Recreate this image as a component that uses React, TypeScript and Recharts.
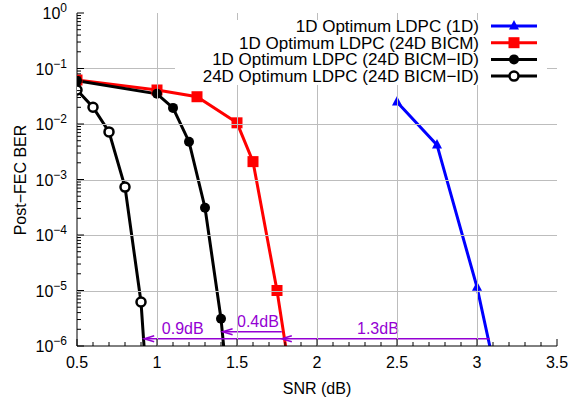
import React from "react";
import { LineChart, Line, XAxis, YAxis, ReferenceLine } from "recharts";

const FONT = '"Liberation Sans", Arial, Helvetica, sans-serif';
const PURPLE = "#9400d3";

// legend names, in plot order
const seriesNames = [
  "1D Optimum LDPC (1D)",
  "1D Optimum LDPC (24D BICM)",
  "1D Optimum LDPC (24D BICM\u2212ID)",
  "24D Optimum LDPC (24D BICM\u2212ID)",
];
const seriesColors = ["#0000ff", "#ff0000", "#000000", "#000000"];

// SNR (dB) / post-FEC BER
const snr1D = [2.5, 2.75, 3.0, 3.1];
const ber1D = [0.025, 0.0042, 1.15e-5, 5.4e-7];

const snrBicm = [0.5, 1.0, 1.25, 1.5, 1.6, 1.75, 1.82];
const berBicm = [0.062, 0.041, 0.031, 0.0105, 0.0021, 1.0e-5, 5e-7];

const snrBicmId1D = [0.5, 1.0, 1.1, 1.2, 1.3, 1.4, 1.45];
const berBicmId1D = [0.06, 0.035, 0.0195, 0.0048, 3.1e-4, 3.1e-6, 1e-7];

const snrBicmId24D = [0.5, 0.6, 0.7, 0.8, 0.9, 0.95];
const berBicmId24D = [0.041, 0.02, 0.0072, 7.3e-4, 6.2e-6, 5e-8];

// gap arrows along the bottom
const arrowFrom = [1.78, 3.08, 1.78];
const arrowTo = [0.92, 1.78, 1.41];
const arrowBer = [1.35e-6, 1.35e-6, 1.8e-6];
const arrowLabels = ["0.9dB", "1.3dB", "0.4dB"];
const arrowLabelSnr = [1.03, 2.25, 1.5];

// axes
const xMajorTicks = [0.5, 1, 1.5, 2, 2.5, 3, 3.5];
const yMajorTicks = [1e-6, 1e-5, 1e-4, 1e-3, 1e-2, 1e-1, 1];
const xDomain = [0.5, 3.5];
const yDomain = [1e-6, 1];

const xAllTicks: number[] = [];
for (let i = 5; i <= 35; i++) xAllTicks.push(i / 10);
const yAllTicks: number[] = [];
yMajorTicks.forEach((d, i) => {
  yAllTicks.push(d);
  if (i < yMajorTicks.length - 1) for (let m = 2; m <= 9; m++) yAllTicks.push(d * m);
});

const isMajorX = (v: number) => xMajorTicks.some((t) => Math.abs(t - v) < 1e-6);
const isMajorY = (v: number) => yMajorTicks.some((t) => Math.abs(t / v - 1) < 1e-6);

const zip = (xs: number[], ys: number[]) => xs.map((snr, i) => ({ snr, ber: ys[i] }));
const series = [
  zip(snr1D, ber1D),
  zip(snrBicm, berBicm),
  zip(snrBicmId1D, berBicmId1D),
  zip(snrBicmId24D, berBicmId24D),
];

function Marker({ kind, cx, cy, color }: { kind: number; cx: number; cy: number; color: string }) {
  if (kind === 0)
    return <polygon points={`${cx},${cy - 6} ${cx - 5},${cy + 3.5} ${cx + 5},${cy + 3.5}`} fill={color} />;
  if (kind === 1) return <rect x={cx - 5.5} y={cy - 5.5} width={11} height={11} fill={color} />;
  if (kind === 2) return <circle cx={cx} cy={cy} r={5} fill={color} />;
  return <circle cx={cx} cy={cy} r={4.5} fill="#fff" stroke={color} strokeWidth={2.5} />;
}

const dotFor = (kind: number) => (p: any) =>
  p.cx == null || p.cy == null ? (
    <g key={p.index} />
  ) : (
    <Marker key={p.index} kind={kind} cx={p.cx} cy={p.cy} color={seriesColors[kind]} />
  );

// light grid: the dotted version vanishes in the screenshot, so a pale solid line stands in for it
const GRID = "#bdbdbd";

const BottomTick = ({ x, y, payload }: any) => {
  const v = payload.value;
  const major = isMajorX(v);
  const inner = major && v > xDomain[0] && v < xDomain[1];
  return (
    <g>
      {inner && <rect x={Math.round(x)} y={y - 333} width={1} height={333} fill={GRID} />}
      <line x1={x} x2={x} y1={y} y2={y - (major ? 7 : 4)} stroke="#000" />
      {major && (
        <text x={x} y={y + 22} textAnchor="middle" fontSize={16} fontFamily={FONT} fill="#000">
          {String(v)}
        </text>
      )}
    </g>
  );
};

const TopTick = ({ x, y, payload }: any) => {
  const major = isMajorX(payload.value);
  return <line x1={x} x2={x} y1={y} y2={y + (major ? 7 : 4)} stroke="#000" />;
};

const LeftTick = ({ x, y, payload }: any) => {
  const v = payload.value;
  const major = isMajorY(v);
  const inner = major && v > yDomain[0] && v < yDomain[1];
  const exp = Math.round(Math.log10(v));
  return (
    <g>
      {inner && <rect x={x} y={Math.round(y)} width={480} height={1} fill={GRID} />}
      <line x1={x} x2={x + (major ? 7 : 4)} y1={y} y2={y} stroke="#000" />
      {major && (
        <text x={x - 10} y={y + 6} textAnchor="end" fontSize={16} fontFamily={FONT} fill="#000">
          10
          <tspan dy={-7} fontSize={12}>
            {exp === 0 ? "0" : "\u2212" + Math.abs(exp)}
          </tspan>
        </text>
      )}
    </g>
  );
};

const RightTick = ({ x, y, payload }: any) => {
  const major = isMajorY(payload.value);
  return <line x1={x} x2={x - (major ? 7 : 4)} y1={y} y2={y} stroke="#000" />;
};

const arrowShape = (i: number) => (p: any) => {
  const { x1, y1, x2, y2 } = p;
  const lx = x1 + ((arrowLabelSnr[i] - arrowFrom[i]) / (arrowTo[i] - arrowFrom[i])) * (x2 - x1);
  const dir = x2 < x1 ? 1 : -1;
  return (
    <g>
      <line x1={x1} y1={y1} x2={x2} y2={y2} stroke={PURPLE} strokeWidth={1.5} />
      <polyline
        points={`${x2 + dir * 10},${y2 - 3} ${x2},${y2} ${x2 + dir * 10},${y2 + 3}`}
        fill="none"
        stroke={PURPLE}
        strokeWidth={1.5}
      />
      <text x={lx} y={y1 - 5} fontSize={16} fontFamily={FONT} fill={PURPLE}>
        {arrowLabels[i]}
      </text>
    </g>
  );
};

export default function App() {
  return (
    <div style={{ position: "absolute", left: 0, top: 0, width: 581, height: 400, background: "#fff" }}>
      <LineChart width={581} height={400} margin={{ top: 13, right: 24, bottom: 0, left: 0 }}>
        <XAxis
          dataKey="snr"
          type="number"
          domain={xDomain}
          allowDataOverflow
          ticks={xAllTicks}
          interval={0}
          height={54}
          tickSize={0}
          tickMargin={0}
          tickLine={false}
          tick={<BottomTick />}
          axisLine={{ stroke: "#000" }}
        />
        <XAxis
          xAxisId="top"
          orientation="top"
          type="number"
          domain={xDomain}
          allowDataOverflow
          ticks={xAllTicks}
          interval={0}
          height={0}
          tickSize={0}
          tickMargin={0}
          tickLine={false}
          tick={<TopTick />}
          axisLine={{ stroke: "#000" }}
        />
        <YAxis
          type="number"
          scale="log"
          domain={yDomain}
          allowDataOverflow
          ticks={yAllTicks}
          interval={0}
          width={77}
          tickSize={0}
          tickMargin={0}
          tickLine={false}
          tick={<LeftTick />}
          axisLine={{ stroke: "#000" }}
        />
        <YAxis
          yAxisId="right"
          orientation="right"
          type="number"
          scale="log"
          domain={yDomain}
          allowDataOverflow
          ticks={yAllTicks}
          interval={0}
          width={0}
          tickSize={0}
          tickMargin={0}
          tickLine={false}
          tick={<RightTick />}
          axisLine={{ stroke: "#000" }}
        />

        {series.map((data, k) => (
          <Line
            key={seriesNames[k]}
            data={data}
            dataKey="ber"
            name={seriesNames[k]}
            stroke={seriesColors[k]}
            strokeWidth={3}
            dot={dotFor(k)}
            activeDot={false}
            isAnimationActive={false}
            legendType="none"
          />
        ))}

        {arrowFrom.map((from, i) => (
          <ReferenceLine
            key={"arrow" + i}
            segment={[
              { x: from, y: arrowBer[i] },
              { x: arrowTo[i], y: arrowBer[i] },
            ]}
            shape={arrowShape(i)}
          />
        ))}
      </LineChart>

      {/* axis titles */}
      <svg
        width={581}
        height={400}
        style={{ position: "absolute", left: 0, top: 0, pointerEvents: "none" }}
      >
        <text x={317} y={394} textAnchor="middle" fontSize={16} fontFamily={FONT} fill="#000">
          SNR (dB)
        </text>
        <text
          x={20}
          y={180}
          textAnchor="middle"
          dominantBaseline="central"
          fontSize={16}
          fontFamily={FONT}
          fill="#000"
          transform="rotate(-90, 20, 180)"
        >
          Post{"\u2212"}FEC BER
        </text>
      </svg>

      {/* key box */}
      <div
        style={{ position: "absolute", left: 175, top: 20, width: 372, height: 65, background: "#fff" }}
      >
        <svg width={372} height={65} style={{ overflow: "visible" }}>
          {seriesNames.map((name, k) => {
            const cy = 6 + k * 16.7;
            return (
              <g key={name}>
                <text
                  x={304}
                  y={cy + 6}
                  textAnchor="end"
                  fontSize={17}
                  fontFamily={FONT}
                  fill="#000"
                >
                  {name}
                </text>
                <line x1={316} x2={362} y1={cy} y2={cy} stroke={seriesColors[k]} strokeWidth={3} />
                <Marker kind={k} cx={339} cy={cy} color={seriesColors[k]} />
              </g>
            );
          })}
        </svg>
      </div>
    </div>
  );
}
